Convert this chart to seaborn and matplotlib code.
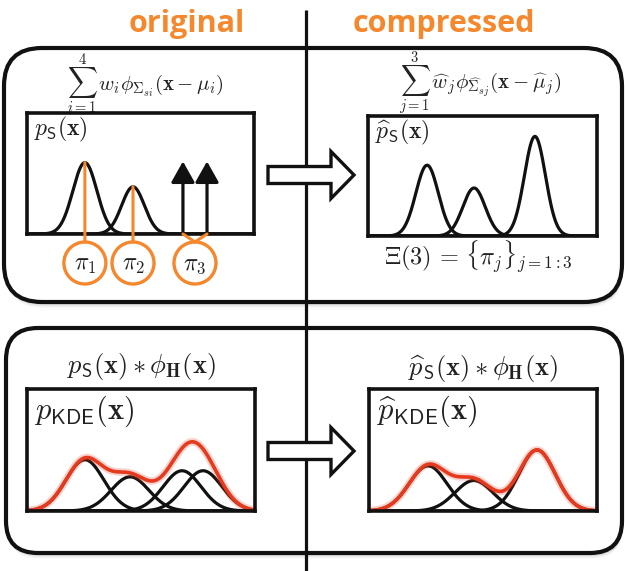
import numpy as np
import pandas as pd
import matplotlib
matplotlib.use("Agg")
import matplotlib.pyplot as plt
import matplotlib.transforms as mtransforms
import seaborn as sns
from matplotlib.patches import FancyBboxPatch, Circle, Polygon, ConnectionPatch

# ---------------- data (x in % of panel width, heights in fraction of panel height) ----
grid = np.linspace(0, 100, 601)

# original mixture: two Gaussians plus two point masses
orig_means = [25.5, 46.7]
orig_peaks = [0.59, 0.39]
orig_sigmas = [5.3, 5.0]
delta_means = [68.7, 79.3]
delta_peaks = [0.60, 0.60]
circle_labels = [r"$\pi_1$", r"$\pi_2$", r"$\pi_3$"]

# compressed mixture: three Gaussians
comp_means = [25.8, 46.3, 72.9]
comp_peaks = [0.59, 0.40, 0.83]
comp_sigmas = [4.9, 4.9, 4.6]

# kernel density estimates (components convolved with the kernel H)
kde_means = [25.4, 45.2, 68.0, 77.2]
kde_peaks = [0.42, 0.28, 0.33, 0.33]
kde_sigmas = [8.3, 8.3, 8.3, 8.3]

ckde_means = [25.9, 46.0, 73.7]
ckde_peaks = [0.37, 0.25, 0.50]
ckde_sigmas = [8.3, 8.3, 8.0]

ORANGE = "#F5872C"
RED = "#E63A1F"
W, H = 625, 571


def components(means, peaks, sigmas):
    rows = []
    for k, (m, p, s) in enumerate(zip(means, peaks, sigmas)):
        rows.append(pd.DataFrame({"x": grid,
                                  "y": p * np.exp(-0.5 * ((grid - m) / s) ** 2),
                                  "comp": k}))
    return pd.concat(rows, ignore_index=True)


def mixture(df):
    return df.groupby("x", as_index=False)["y"].sum()


sns.set_theme(style="white")
plt.rcParams["mathtext.fontset"] = "cm"
plt.rcParams["font.family"] = ["DejaVu Sans"]

fig = plt.figure(figsize=(W / 100, H / 100), dpi=100)
bg = fig.add_axes([0, 0, 1, 1])
bg.set_xlim(0, W)
bg.set_ylim(H, 0)
bg.axis("off")


def rounded_box(x0, y0, x1, y1, r):
    # soft drop shadow
    for i, a in enumerate([0.05, 0.05, 0.04, 0.03, 0.02]):
        bg.add_patch(FancyBboxPatch((x0 + 1, y0 + 2 + i), x1 - x0, y1 - y0,
                                    boxstyle=f"round,pad=0,rounding_size={r}",
                                    fc=(0, 0, 0, a), ec="none", zorder=0.2))
    bg.add_patch(FancyBboxPatch((x0, y0), x1 - x0, y1 - y0,
                                boxstyle=f"round,pad=0,rounding_size={r}",
                                fc="white", ec="none", zorder=0.5))
    bg.add_patch(FancyBboxPatch((x0, y0), x1 - x0, y1 - y0,
                                boxstyle=f"round,pad=0,rounding_size={r}",
                                fc="none", ec="#111111", lw=3.0, zorder=2))


rounded_box(4, 48, 622, 302, 38)
rounded_box(6, 328, 622, 553, 32)

# divider between the two columns
bg.plot([306, 306], [10, H + 5], color="#111111", lw=2.3, zorder=1, solid_capstyle="butt")

# column headings
bg.text(187, 32, "original", color=ORANGE, fontsize=22, fontweight="bold",
        family="Open Sans", ha="center", va="baseline")
bg.text(444, 32, "compressed", color=ORANGE, fontsize=22, fontweight="bold",
        family="Open Sans", ha="center", va="baseline")

# hollow arrows
def hollow_arrow(cy):
    pts = [(268, cy - 8.5), (331, cy - 8.5), (331, cy - 23.5), (354, cy),
           (331, cy + 23.5), (331, cy + 8.5), (268, cy + 8.5)]
    bg.add_patch(Polygon(pts, closed=True, fc="white", ec="#111111", lw=2.4,
                         joinstyle="miter", zorder=3))


hollow_arrow(175)
hollow_arrow(451)

# formulas
INK = "#222222"
bg.text(145, 84, r"$\sum_{i=1}^{4}\, w_i\phi_{\mathbf{\Sigma}_{si}}(\mathbf{x}-\mu_i)$",
        fontsize=15, ha="center", va="center", color=INK)
bg.text(480, 84, r"$\sum_{j=1}^{3}\, \widehat{w}_j\phi_{\widehat{\mathbf{\Sigma}}_{sj}}(\mathbf{x}-\widehat{\mu}_j)$",
        fontsize=15, ha="center", va="center", color=INK)
bg.text(141, 367, r"$p_{\mathsf{S}}(\mathbf{x}) * \phi_{\mathbf{H}}(\mathbf{x})$",
        fontsize=19, ha="center", va="center", color=INK)
bg.text(483, 368, r"$\widehat{p}_{\mathsf{S}}(\mathbf{x}) * \phi_{\mathbf{H}}(\mathbf{x})$",
        fontsize=19, ha="center", va="center", color=INK)
bg.text(478, 257, r"$\Xi(3)\,=\,\{\pi_j\}_{j=1{:}3}$",
        fontsize=17.5, ha="center", va="center", color=INK)


def panel(x0, y0, x1, y1, label, fs, ly):
    ax = fig.add_axes([x0 / W, (H - y1) / H, (x1 - x0) / W, (y1 - y0) / H])
    ax.set_facecolor("none")
    ax.text(0.03, ly, label, transform=ax.transAxes, fontsize=fs,
            ha="left", va="center", color=INK)
    return ax


def finish(ax):
    ax.set_xlim(0, 100)
    ax.set_ylim(0, 1)
    ax.set_xticks([])
    ax.set_yticks([])
    ax.set_xlabel("")
    ax.set_ylabel("")
    if ax.get_legend() is not None:
        ax.get_legend().remove()
    for s in ax.spines.values():
        s.set_visible(True)
        s.set_color("#111111")
        s.set_linewidth(2.6)


LW = 2.3

# original mixture
ax1 = panel(27, 113, 254, 234, r"$p_{\mathsf{S}}(\mathbf{x})$", 17, 0.86)
d1 = components(orig_means, orig_peaks, orig_sigmas)
sns.lineplot(data=d1, x="x", y="y", units="comp", estimator=None,
             color="#111111", lw=LW, ax=ax1)
finish(ax1)
for m, p in zip(delta_means, delta_peaks):
    ax1.annotate("", xy=(m, p), xytext=(m, 0),
                 arrowprops=dict(arrowstyle="-|>,head_length=0.8,head_width=0.45",
                                 color="#111111", lw=LW, shrinkA=0, shrinkB=0,
                                 mutation_scale=16))

# compressed mixture
ax2 = panel(368, 116, 597, 236, r"$\widehat{p}_{\mathsf{S}}(\mathbf{x})$", 17, 0.86)
d2 = components(comp_means, comp_peaks, comp_sigmas)
sns.lineplot(data=d2, x="x", y="y", units="comp", estimator=None,
             color="#111111", lw=LW, ax=ax2)
finish(ax2)

# KDE of original
ax3 = panel(27, 389, 255, 511, r"$p_{\mathsf{KDE}}(\mathbf{x})$", 22, 0.82)
d3 = components(kde_means, kde_peaks, kde_sigmas)
sns.lineplot(data=d3, x="x", y="y", units="comp", estimator=None,
             color="#111111", lw=LW, ax=ax3)
s3 = mixture(d3)
sns.lineplot(data=s3, x="x", y="y", color=RED, lw=5.5, alpha=0.22, ax=ax3)
sns.lineplot(data=s3, x="x", y="y", color=RED, lw=2.6, ax=ax3)
finish(ax3)

# KDE of compressed
ax4 = panel(369, 389, 597, 511, r"$\widehat{p}_{\mathsf{KDE}}(\mathbf{x})$", 22, 0.82)
d4 = components(ckde_means, ckde_peaks, ckde_sigmas)
sns.lineplot(data=d4, x="x", y="y", units="comp", estimator=None,
             color="#111111", lw=LW, ax=ax4)
s4 = mixture(d4)
sns.lineplot(data=s4, x="x", y="y", color=RED, lw=5.5, alpha=0.22, ax=ax4)
sns.lineplot(data=s4, x="x", y="y", color=RED, lw=2.6, ax=ax4)
finish(ax4)

# orange component markers below the original mixture
CIRCLE_Y, R = 263, 21
to_bg = ax1.transData + bg.transData.inverted()
blend = mtransforms.blended_transform_factory(ax1.transData, bg.transData)

centers = [to_bg.transform((m, 0))[0] for m in orig_means]
centers.append(to_bg.transform((np.mean(delta_means), 0))[0])

for m, p in zip(orig_means, orig_peaks):
    fig.add_artist(ConnectionPatch(xyA=(m, p), coordsA=ax1.transData,
                                   xyB=(m, CIRCLE_Y - R), coordsB=blend,
                                   color=ORANGE, lw=2.2, zorder=6))
for m in delta_means:
    fig.add_artist(ConnectionPatch(xyA=(m, 0), coordsA=ax1.transData,
                                   xyB=(np.mean(delta_means), CIRCLE_Y - R), coordsB=blend,
                                   color=ORANGE, lw=2.2, zorder=6))

for cx, lab in zip(centers, circle_labels):
    bg.add_patch(Circle((cx, CIRCLE_Y), R, fc="white", ec=ORANGE, lw=2.4, zorder=4))
    bg.text(cx, CIRCLE_Y + 1, lab, fontsize=17, ha="center", va="center",
            color=INK, zorder=5)

fig.savefig("out.png", dpi=100)
